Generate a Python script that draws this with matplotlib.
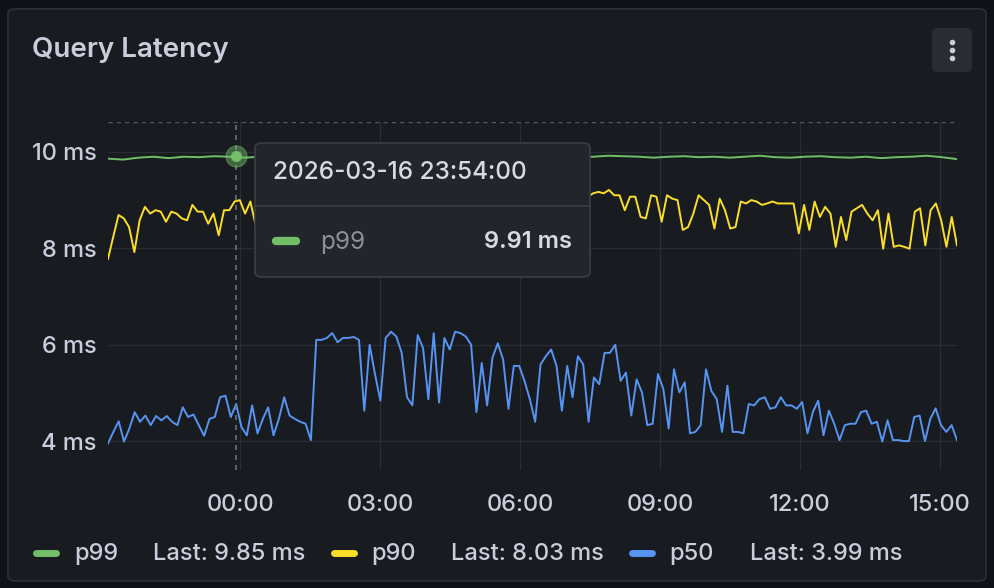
import matplotlib
import matplotlib.pyplot as plt
import matplotlib.dates as mdates
import numpy as np
import pandas as pd
from matplotlib.patches import FancyBboxPatch
from matplotlib.lines import Line2D

matplotlib.use("Agg")
plt.rcParams["font.family"] = ["Inter", "DejaVu Sans"]

# data (ms)
start = "2026-03-16 21:10"
end = "2026-03-17 15:22"

p50 = [3.95, 4.19, 4.41, 3.99, 4.26, 4.6, 4.4, 4.53, 4.33, 4.52, 4.43, 4.52, 4.4, 4.33, 4.7,
       4.5, 4.55, 4.33, 4.11, 4.46, 4.5, 4.91, 4.94, 4.5, 4.77, 4.29, 4.12, 4.74, 4.16, 4.46,
       4.7, 4.12, 4.46, 4.91, 4.53, 4.46, 4.4, 4.36, 4.02, 6.1, 6.1, 6.14, 6.24, 6.05, 6.14,
       6.14, 6.16, 6.1, 4.63, 6.0, 5.39, 4.84, 6.14, 6.27, 6.17, 5.83, 4.91, 4.74, 6.2, 5.93,
       4.87, 6.24, 4.8, 6.14, 5.9, 6.27, 6.24, 6.17, 6.0, 4.6, 5.62, 4.74, 5.73, 6.03, 5.69,
       4.67, 5.56, 5.56,
       5.25, 4.87, 4.4, 5.59, 5.76, 5.9, 5.56, 4.63, 5.56, 4.91, 5.76, 5.59, 4.4, 5.32, 5.18,
       5.83, 5.83, 6.0, 5.25, 5.42, 4.53, 5.28, 5.01, 4.33, 4.36, 5.39, 5.08, 4.26, 5.49, 5.01,
       5.22, 4.16, 4.19, 4.33, 5.49, 5.04, 4.87, 4.19, 5.15, 4.19, 4.19, 4.16, 4.77, 4.74, 4.87,
       4.91, 4.67, 4.7, 4.91, 4.74, 4.74, 4.67, 4.81, 4.16, 4.6, 4.84, 4.12, 4.63, 4.36, 4.02,
       4.33, 4.36, 4.36, 4.6, 4.63, 4.36, 4.4, 3.99, 4.43, 4.02, 4.02, 4.0, 4.0, 4.5, 4.53,
       4.0, 4.46, 4.68, 4.33, 4.19, 4.33, 4.02]

p90 = [7.78, 8.24, 8.69, 8.62, 8.44, 7.92, 8.58, 8.86, 8.72, 8.79, 8.76, 8.55, 8.76, 8.72, 8.62,
       8.58, 8.9, 8.76, 8.76, 8.51, 8.72, 8.27, 8.79, 8.79, 8.97, 9.0, 8.72, 8.97, 8.48, 8.13,
       8.93,
       8.7, 8.85, 8.6, 8.8, 8.9, 8.75, 8.5, 8.8, 8.85, 8.7, 8.6, 8.8, 8.9, 8.3, 8.75, 8.85,
       8.8, 8.7, 8.85, 8.9, 9.1, 9.15, 9.1, 9.12, 9.05, 9.1, 9.15, 9.1, 8.7, 9.05, 8.9, 8.45,
       9.1, 9.15, 9.05, 8.6, 9.1, 9.12, 8.5, 9.05, 9.1, 9.15, 9.1, 8.7, 9.0, 8.4, 9.1, 9.15,
       9.1, 8.9, 9.1, 9.12, 8.55, 9.05, 9.1, 9.15, 9.1, 8.8, 9.05, 9.1,
       9.07, 9.14, 9.17, 9.14, 9.21, 9.1, 9.1, 8.79, 9.07, 9.07, 8.65, 8.62, 9.1, 9.07, 8.55,
       9.1, 9.03, 9.0, 8.38, 8.44, 8.72, 9.1, 9.0, 8.9, 8.41, 9.03, 8.79, 8.41, 8.44, 8.97,
       8.93, 9.0, 8.97, 8.9, 8.93, 8.97, 8.93, 8.93, 8.93, 8.93, 8.31, 8.9, 8.38, 8.97, 8.65,
       8.86, 8.72, 8.03, 8.65, 8.17, 8.76, 8.83, 8.9, 8.72, 8.58, 8.79, 7.99, 8.72, 8.03, 8.06,
       8.03, 7.99, 8.76, 8.83, 8.06, 8.79, 8.93, 8.58, 8.03, 8.65, 8.06]

p99 = [9.86, 9.84, 9.88, 9.9, 9.87, 9.9, 9.89, 9.91, 9.9, 9.88, 9.9, 9.91, 9.92, 9.9, 9.91,
       9.93, 9.92, 9.9, 9.91, 9.93, 9.92, 9.9, 9.92, 9.93, 9.91, 9.9, 9.92, 9.91, 9.9, 9.92,
       9.91, 9.89, 9.9, 9.92, 9.91, 9.9, 9.88, 9.9, 9.91, 9.89, 9.9, 9.88, 9.9, 9.92, 9.89,
       9.88, 9.9, 9.91, 9.89, 9.88, 9.9, 9.87, 9.89, 9.9, 9.92, 9.89, 9.85]

series = [("p99", p99, "#73bf69", "9.85 ms"),
          ("p90", p90, "#fade2a", "8.03 ms"),
          ("p50", p50, "#5794f2", "3.99 ms")]

hover_time = pd.Timestamp("2026-03-16 23:54")
hover_value = 9.91

text_col = "#ccccdc"
W, H = 994, 588

fig = plt.figure(figsize=(9.94, 5.88), dpi=100)
fig.patch.set_facecolor("#111217")
fig.patches.append(FancyBboxPatch((0.008, 0.012), 0.984, 0.973,
                                  boxstyle="round,pad=0,rounding_size=0.008",
                                  transform=fig.transFigure, facecolor="#181b1f",
                                  edgecolor="#2c2f35", linewidth=1.2, zorder=-5))

ax = fig.add_axes([108 / W, 1 - 470 / H, (957 - 108) / W, (470 - 122) / H])
ax.set_facecolor("none")
for s in ax.spines.values():
    s.set_visible(False)

for name, vals, col, last in series:
    t = pd.date_range(start, end, periods=len(vals))
    ax.plot(t, vals, color=col, linewidth=1.4, zorder=3)

ax.set_xlim(pd.Timestamp(start), pd.Timestamp(end))
ax.set_ylim(3.4, 10.62)
ax.set_yticks([4, 6, 8, 10])
ax.yaxis.set_major_formatter(plt.FuncFormatter(lambda v, p: f"{v:.0f} ms"))
ax.xaxis.set_major_locator(mdates.HourLocator(byhour=[0, 3, 6, 9, 12, 15]))
ax.xaxis.set_major_formatter(mdates.DateFormatter("%H:%M"))
ax.tick_params(colors=text_col, labelsize=17, length=0)
ax.tick_params(axis="x", pad=17)
ax.tick_params(axis="y", pad=8)
for lab in ax.get_xticklabels() + ax.get_yticklabels():
    lab.set_fontweight("medium")
ax.grid(True, color="#2a2d33", linewidth=0.9)
ax.axhline(10.62, color="#55585e", linestyle=(0, (3, 3)), linewidth=1, zorder=2)

# hover crosshair and point
ax.axvline(hover_time, color="#6e7178", linestyle=(0, (3, 3)), linewidth=1.2, zorder=4)
ax.plot([hover_time], [hover_value], "o", markersize=15, color="#73bf69", alpha=0.45, zorder=5)
ax.plot([hover_time], [hover_value], "o", markersize=7, color="#73bf69", zorder=6)

# title and menu button
fig.text(32 / W, 1 - 50 / H, "Query Latency", color=text_col, fontsize=20, fontweight="semibold",
         va="center")
fig.patches.append(FancyBboxPatch((932 / W, 1 - 72 / H), 40 / W, 44 / H,
                                  boxstyle="round,pad=0,rounding_size=0.006",
                                  transform=fig.transFigure, facecolor="#2a2c31",
                                  edgecolor="none", zorder=1))
for dy in (-8, 0, 8):
    fig.add_artist(Line2D([952 / W], [1 - (50 + dy) / H], marker="o", markersize=3,
                          color=text_col, transform=fig.transFigure, zorder=2))

# tooltip
fig.patches.append(FancyBboxPatch((255 / W, 1 - 277 / H), 335 / W, 134 / H,
                                  boxstyle="round,pad=0,rounding_size=0.008",
                                  transform=fig.transFigure, facecolor="#22252b",
                                  edgecolor="#3b3e45", linewidth=1.2, zorder=10))
fig.add_artist(Line2D([255 / W, 590 / W], [1 - 206 / H] * 2, color="#3b3e45", linewidth=1.2,
                      transform=fig.transFigure, zorder=11))
fig.text(273 / W, 1 - 173 / H, hover_time.strftime("%Y-%m-%d %H:%M:%S"), color="#d8d9e3",
         fontsize=17.5, fontweight="medium", va="center", zorder=12)
fig.add_artist(Line2D([276 / W, 296 / W], [1 - 241 / H] * 2, color="#73bf69", linewidth=6,
                      solid_capstyle="round", transform=fig.transFigure, zorder=12))
fig.text(320 / W, 1 - 242 / H, "p99", color="#8e8e99", fontsize=17.5, va="center", zorder=12)
fig.text(572 / W, 1 - 242 / H, f"{hover_value:.2f} ms", color="#d8d9e3", fontsize=17,
         fontweight="semibold", ha="right", va="center", zorder=12)

# legend
legend_x = [(36, 74, 153), (334, 371, 451), (632, 669, 750)]
for (name, vals, col, last), (lx, nx, vx) in zip(series, legend_x):
    fig.add_artist(Line2D([lx / W, (lx + 20) / W], [1 - 553 / H] * 2, color=col, linewidth=5,
                          solid_capstyle="round", transform=fig.transFigure))
    fig.text(nx / W, 1 - 554 / H, name, color=text_col, fontsize=17, fontweight="medium",
             va="center")
    fig.text(vx / W, 1 - 554 / H, f"Last: {last}", color=text_col, fontsize=17,
             fontweight="medium", va="center")

fig.savefig("out.png", dpi=100, facecolor=fig.get_facecolor())
